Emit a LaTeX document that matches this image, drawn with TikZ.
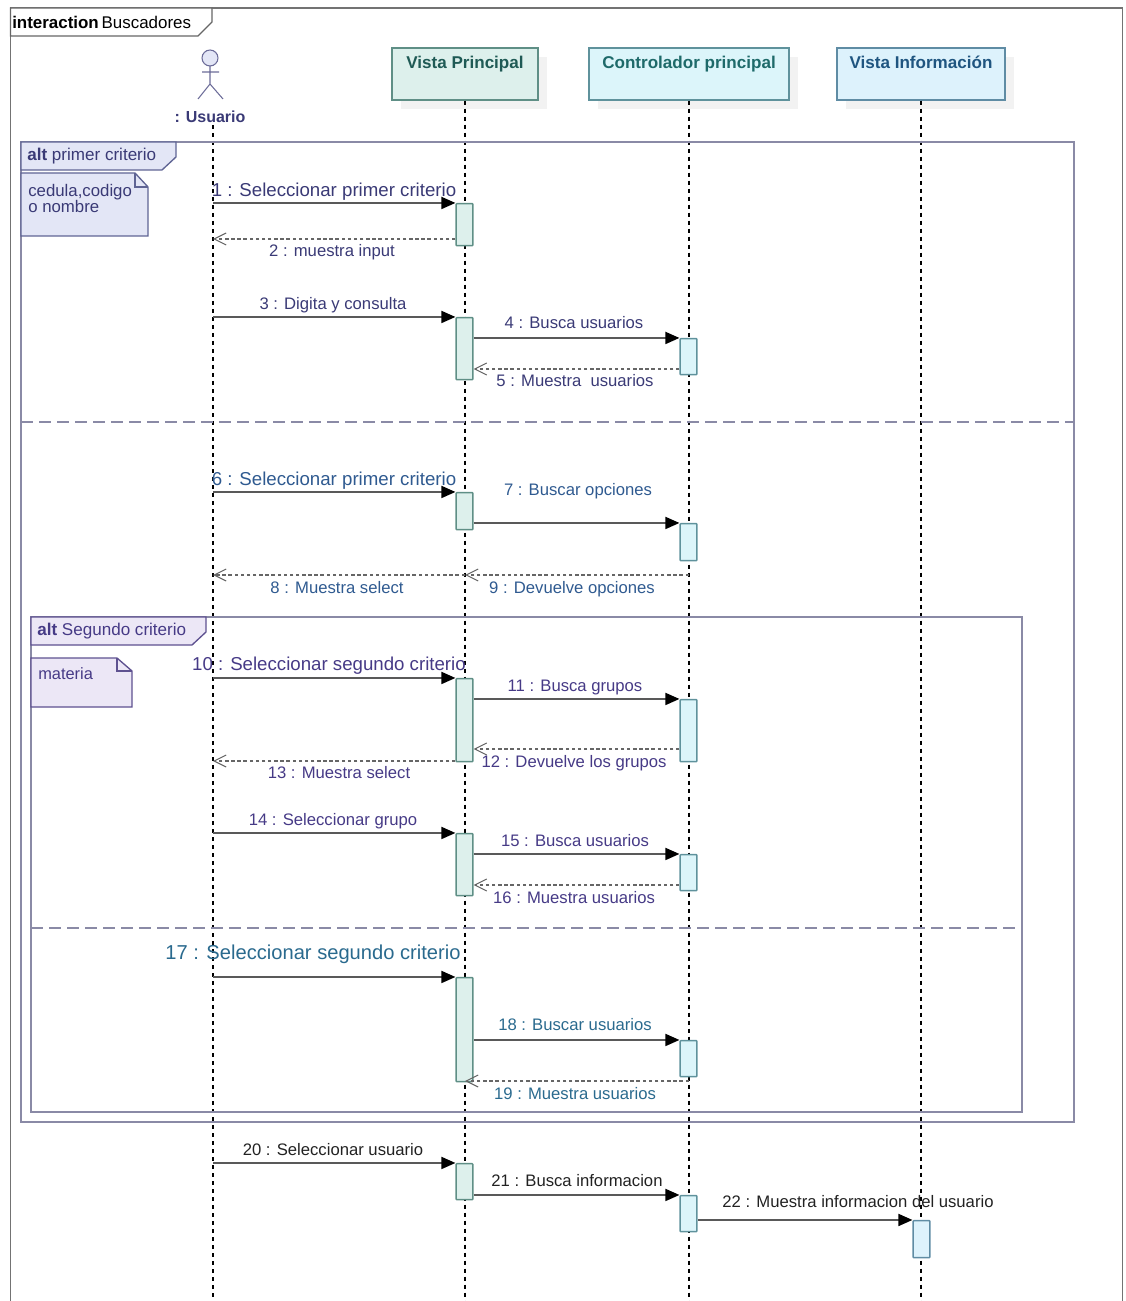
\documentclass[tikz,border=0pt]{standalone}
\usepackage{fontspec}
\setmainfont{Liberation Sans}
\usetikzlibrary{arrows.meta, shadows}

\definecolor{frameline}{HTML}{8A8AA6}
\definecolor{altoneline}{HTML}{5F6494}
\definecolor{altonefill}{HTML}{E3E6F6}
\definecolor{alttwoline}{HTML}{5E5190}
\definecolor{alttwofill}{HTML}{ECE7F6}
\definecolor{vistaline}{HTML}{5F8F86}
\definecolor{vistafill}{HTML}{DDF0EC}
\definecolor{contline}{HTML}{5F929C}
\definecolor{contfill}{HTML}{DCF5FA}
\definecolor{infoline}{HTML}{5F8CA4}
\definecolor{infofill}{HTML}{DDF2FC}
\definecolor{textone}{HTML}{3A3A76}
\definecolor{texttwo}{HTML}{2F5A90}
\definecolor{textthree}{HTML}{463A86}
\definecolor{textfour}{HTML}{2A6A8E}
\definecolor{textfive}{HTML}{222222}
\definecolor{vistatext}{HTML}{1F5A55}
\definecolor{conttext}{HTML}{1E6A6A}
\definecolor{infotext}{HTML}{1F5580}

\tikzset{
    headbox/.style = {draw, line width=1.1pt, align=center, font=\fontsize{12.8}{15}\bfseries\selectfont,
        minimum height=39pt, inner sep=0pt,
        drop shadow={shadow xshift=6.5pt, shadow yshift=-6.5pt, fill=black!5, opacity=1}},
    actbox/.style = {draw, line width=1.1pt, minimum width=12.5pt, inner sep=0pt, rounded corners=0.5pt},
    vistaact/.style = {actbox, draw=vistaline, fill=vistafill},
    contact/.style = {actbox, draw=contline, fill=contfill},
    infoact/.style = {actbox, draw=infoline, fill=infofill},
    lifeline/.style = {black, line width=0.85pt, dash pattern=on 3pt off 3pt},
    msg/.style = {draw=black!65, line width=1.3pt, -{Triangle[length=10.5pt, width=9pt, fill=black, color=black]}},
    retmsg/.style = {draw=black!60, line width=1pt, dash pattern=on 2.6pt off 2pt,
        -{Straight Barb[length=9pt, width=9pt, line width=0.8pt]}},
    msglabel/.style = {font=\fontsize{12.5}{15}\selectfont, text height=0.72em, text depth=0.2em, inner sep=0pt, yshift=-1.8pt},
    biglabel/.style = {msglabel, font=\fontsize{14}{17}\selectfont},
    hugelabel/.style = {msglabel, font=\fontsize{15.1}{18}\selectfont},
    notetext/.style = {font=\fontsize{12.6}{12}\selectfont, align=left, inner sep=0pt, anchor=north west},
}

\begin{document}
\begin{tikzpicture}[x=0.75pt, y=-0.75pt]
    \useasboundingbox (0,0) rectangle (1125,1301);

    \node[headbox, minimum width=109.5pt, draw=vistaline, fill=vistafill, text=vistatext] (vp) at (465,74) {Vista Principal\\[2pt]\mbox{}};
    \node[headbox, minimum width=150pt, draw=contline, fill=contfill, text=conttext] (cp) at (689,74) {Controlador principal\\[2pt]\mbox{}};
    \node[headbox, minimum width=126pt, draw=infoline, fill=infofill, text=infotext] (vi) at (921,74) {Vista Información\\[2pt]\mbox{}};

    \node[font=\fontsize{12}{14}\bfseries\selectfont, text=textone, inner sep=0pt] (us) at (210,117) {: Usuario};
    \draw[draw=textone!75, line width=0.8pt, fill=altonefill] (210,58) circle (8);
    \draw[draw=textone!75, line width=0.8pt] (210,66) -- (210,84) (202,72) -- (219,72) (198,99) -- (210,84) -- (223,99);

    \coordinate (lu) at (213,125);
    \coordinate (lp) at (vp.south);
    \coordinate (lc) at (cp.south);
    \coordinate (li) at (vi.south);
    \foreach \l in {lu, lp, lc, li}
        \draw[lifeline] (\l) -- (\l |- 0,1301);

    \draw[black!55, line width=1.2pt] (10.5,1301) -- (10.5,8) -- (1122.5,8) -- (1122.5,1301);
    \draw[black!60, line width=1pt, fill=white] (10.5,36) -- (198,36) -- (212,22) -- (212,8) -- (10.5,8) -- cycle;
    \node[font=\fontsize{12.7}{14}\selectfont, inner sep=0pt, anchor=west] (nm) at (12,22) {\textbf{interaction}\,Buscadores};

    \draw[frameline, line width=1.2pt] (21,142) rectangle (1074,1122);
    \draw[frameline, line width=1.2pt, dash pattern=on 9pt off 4.5pt] (21,422) -- (1074,422);
    \draw[altoneline, line width=1pt, fill=altonefill] (21,170) -- (162,170) -- (176,157) -- (176,142) -- (21,142) -- cycle;
    \node[font=\fontsize{12.8}{15}\selectfont, text=textone, inner sep=0pt, anchor=west] (ta) at (27,156) {\textbf{alt} primer criterio};
    \draw[altoneline, line width=1pt, fill=altonefill] (21,173) -- (135,173) -- (148,187) -- (148,236) -- (21,236) -- cycle;
    \draw[altoneline, line width=1pt] (135,173) -- (135,187) -- (148,187);
    \node[notetext, text=textone] (na) at (28,184) {cedula,codigo\\o nombre};

    \draw[frameline, line width=1.2pt] (31,617) rectangle (1022,1112);
    \draw[frameline, line width=1.2pt, dash pattern=on 9pt off 4.5pt] (31,928) -- (1022,928);
    \draw[alttwoline, line width=1pt, fill=alttwofill] (31,645) -- (192,645) -- (206,632) -- (206,617) -- (31,617) -- cycle;
    \node[font=\fontsize{12.8}{15}\selectfont, text=textthree, inner sep=0pt, anchor=west] (tb) at (37,631) {\textbf{alt} Segundo criterio};
    \draw[alttwoline, line width=1pt, fill=alttwofill] (31,658) -- (117,658) -- (132,671) -- (132,707) -- (31,707) -- cycle;
    \draw[alttwoline, line width=1pt] (117,658) -- (117,671) -- (132,671);
    \node[notetext, text=textthree, font=\fontsize{12.3}{15}\selectfont] (nb) at (38,667) {materia};

    \foreach \n/\t/\b in {1/203/245, 2/317/379, 3/492/529, 4/678/761, 5/833/895, 6/977/1081, 7/1163/1199}
        \node[vistaact, minimum height={(\b-\t)*0.75pt}] (P\n) at (464.5,{(\t+\b)/2+0.7}) {};
    \foreach \n/\t/\b in {1/338/374, 2/523/560, 3/699/761, 4/854/890, 5/1040/1076, 6/1195/1231}
        \node[contact, minimum height={(\b-\t)*0.75pt}] (C\n) at (688.5,{(\t+\b)/2+0.7}) {};
    \node[infoact, minimum height=27.75pt] (I1) at (921.5,1239.2) {};

    \foreach \s/\e in {lu/P1, lu/P2, P2.east/C1, lu/P3, P3.east/C2, lu/P4, P4.east/C3, lu/P5, P5.east/C4, lu/P6, P6.east/C5, lu/P7, P7.east/C6, C6.east/I1}
        \draw[msg] (\s |- \e.north) -- (\e.north west);
    \foreach \s/\e/\y in {P1.west/lu/239, C1.west/P2.east/369, lp/lu/575, lc/lp/575, C3.west/P4.east/749, P4.west/lu/761, C4.west/P5.east/885, lc/lp/1081}
        \draw[retmsg] (\s |- 0,\y) -- (\e |- 0,\y);

    \foreach \n/\x/\y/\t in {2/332/251/2 : muestra input, 3/333/304/3 : Digita y consulta, 4/574/323/4 : Busca usuarios, 5/575/381/5 : Muestra~ usuarios}
        \node[msglabel, text=textone] (m\n) at (\x,\y) {\t};
    \node[biglabel, text=textone] (m1) at (334,191) {1 : Seleccionar primer criterio};
    \node[biglabel, text=texttwo] (m6) at (334,480) {6 : Seleccionar primer criterio};
    \foreach \n/\x/\y/\t in {7/578/490/7 : Buscar opciones, 8/337/588/8 : Muestra select, 9/572/588/9 : Devuelve opciones}
        \node[msglabel, text=texttwo] (m\n) at (\x,\y) {\t};
    \node[biglabel, text=textthree] (m10) at (329,665) {10 : Seleccionar segundo criterio};
    \foreach \n/\x/\y/\t in {11/575/686/11 : Busca grupos, 12/574/762/12 : Devuelve los grupos, 13/339/773/13 : Muestra select, 14/333/820/14 : Seleccionar grupo, 15/575/841/15 : Busca usuarios, 16/574/898/16 : Muestra usuarios}
        \node[msglabel, text=textthree] (m\n) at (\x,\y) {\t};
    \node[hugelabel, text=textfour] (m17) at (313,954) {17 : Seleccionar segundo criterio};
    \foreach \n/\x/\y/\t in {18/575/1025/18 : Buscar usuarios, 19/575/1094/19 : Muestra usuarios}
        \node[msglabel, text=textfour] (m\n) at (\x,\y) {\t};
    \foreach \n/\x/\y/\t in {20/333/1150/20 : Seleccionar usuario, 21/577/1181/21 : Busca informacion, 22/858/1202/22 : Muestra informacion del usuario}
        \node[msglabel, text=textfive] (m\n) at (\x,\y) {\t};
\end{tikzpicture}
\end{document}
